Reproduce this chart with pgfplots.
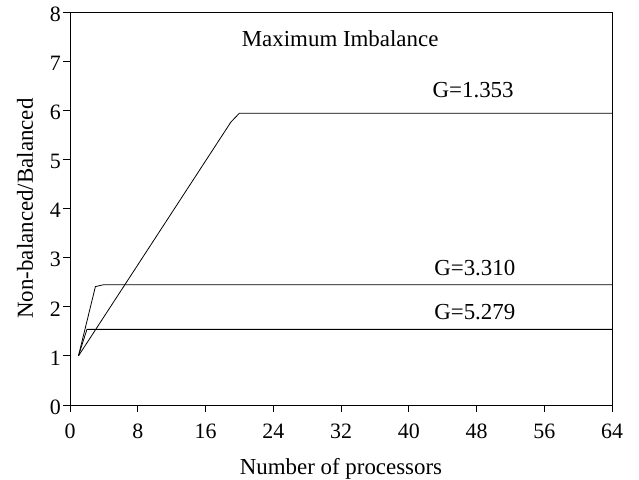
\documentclass[border=0pt]{standalone}
\usepackage{pgfplots}
\pgfplotsset{compat=1.18}
\usepackage{fontspec}
\setmainfont{Liberation Serif}
\begin{document}
\fontsize{23}{26}\selectfont
\begin{tikzpicture}
\begin{axis}[
  scale only axis, width=542bp, height=393bp,
  xmin=0, xmax=64, ymin=0, ymax=8,
  xtick={0,8,...,64}, ytick={0,1,...,8},
  axis x line*=bottom, axis y line*=left,
  tick align=outside, major tick length=7bp,
  tick style={black, line width=0.8pt},
  axis line style={black, line width=0.8pt},
  /pgf/number format/assume math mode=true,
  ticklabel style={font=\fontsize{22}{24}\selectfont},
  xticklabel style={inner ysep=0pt, yshift=-12bp},
  yticklabel style={inner ysep=0pt, yshift=-2bp, inner xsep=2bp},
  xlabel={Number of processors},
  ylabel={Non-balanced/Balanced},
  xlabel style={font=\fontsize{23}{26}\selectfont, at={(axis description cs:0.5,0)}, anchor=base, yshift=-69bp, inner sep=0pt},
  ylabel style={font=\fontsize{23}{26}\selectfont, at={(axis description cs:-0.083,0.5)}, anchor=center, inner sep=0pt},
  clip=false,
]
\draw[black, line width=0.8pt] (axis cs:0,8) -- (axis cs:64,8) -- (axis cs:64,0);
\addplot[black, line width=0.8pt, mark=none] coordinates {(1,1) (19,5.76) (20,5.94) (64,5.94)};
\addplot[black, line width=0.8pt, mark=none] coordinates {(1,1) (3,2.41) (4,2.45) (64,2.45)};
\addplot[black, line width=0.8pt, mark=none] coordinates {(1,1) (2,1.54) (64,1.54)};
\node[font=\fontsize{23}{26}\selectfont] at (axis cs:31.9,7.45) {Maximum Imbalance};
\node[font=\fontsize{23}{26}\selectfont] at (axis cs:47.6,6.42) {G=1.353};
\node[font=\fontsize{23}{26}\selectfont] at (axis cs:47.8,2.78) {G=3.310};
\node[font=\fontsize{23}{26}\selectfont] at (axis cs:47.8,1.90) {G=5.279};
\end{axis}
\path (current axis.south west) ++(-70bp,-74bp) coordinate (a);
\path (current axis.north east) ++(27bp,12bp) coordinate (b);
\path (a) rectangle (b);
\end{tikzpicture}
\end{document}
